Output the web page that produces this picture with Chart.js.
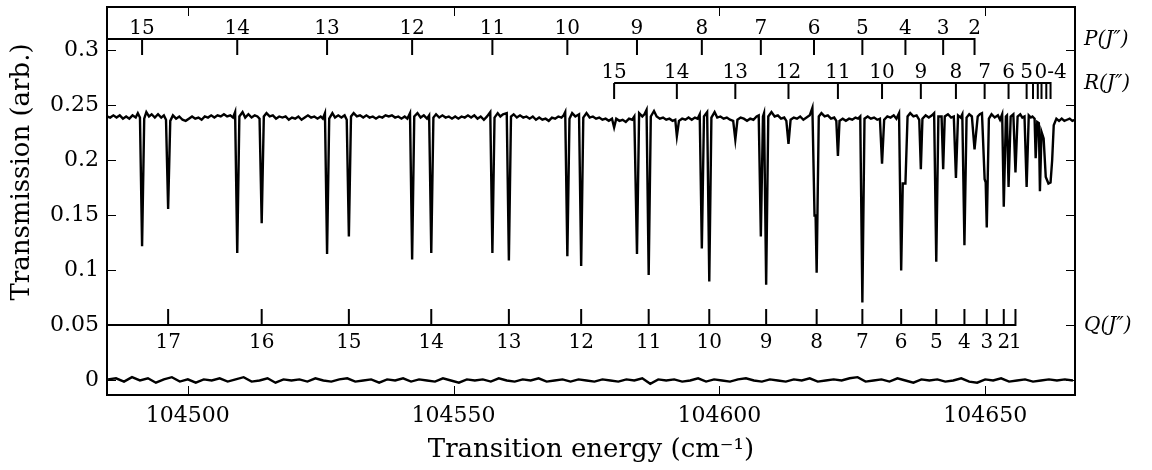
<!DOCTYPE html>
<html>
<head>
<meta charset="utf-8">
<script src="https://cdn.jsdelivr.net/npm/chart.js@4.4.1/dist/chart.umd.min.js"></script>
<style>
  body { margin: 0; background: #fff; }
  canvas { display: block; }
</style>
</head>
<body>
<canvas id="spec" width="1152" height="470"></canvas>
<script>
// axis range and tick labels
var xMin = 104484.8, xMax = 104666.9;
var yMin = -0.0132, yMax = 0.3395;
var xTicks = [104500, 104550, 104600, 104650];
var yTicks = [0, 0.05, 0.1, 0.15, 0.2, 0.25, 0.3];

// transmission spectrum [energy, transmission]
var spectrum = [
  [104484.8, 0.240], [104485.4, 0.239], [104486.0, 0.241], [104486.6, 0.239], [104487.2, 0.241],
  [104487.8, 0.238], [104488.4, 0.240], [104489.0, 0.238], [104489.6, 0.241], [104490.2, 0.239],
  [104490.6, 0.243], [104491.0, 0.239], [104491.4, 0.122], [104491.8, 0.238], [104492.2, 0.244],
  [104492.7, 0.240], [104493.2, 0.242], [104493.8, 0.239], [104494.4, 0.242], [104495.0, 0.239],
  [104495.5, 0.241], [104495.9, 0.237], [104496.3, 0.156], [104496.7, 0.236], [104497.2, 0.241],
  [104497.8, 0.238], [104498.4, 0.240], [104499.0, 0.237], [104499.6, 0.236], [104500.2, 0.238],
  [104500.8, 0.240], [104501.4, 0.238], [104502.0, 0.239], [104502.6, 0.237], [104503.2, 0.240],
  [104503.8, 0.239], [104504.4, 0.241], [104505.0, 0.239], [104505.6, 0.241], [104506.2, 0.240],
  [104506.8, 0.242], [104507.4, 0.240], [104508.0, 0.241], [104508.5, 0.239], [104508.9, 0.244],
  [104509.3, 0.116], [104509.7, 0.240], [104510.3, 0.244], [104510.8, 0.239], [104511.4, 0.242],
  [104512.0, 0.239], [104512.6, 0.241], [104513.1, 0.240], [104513.5, 0.238], [104513.9, 0.143],
  [104514.3, 0.240], [104514.8, 0.243], [104515.4, 0.240], [104516.0, 0.241], [104516.6, 0.238],
  [104517.2, 0.240], [104517.8, 0.239], [104518.4, 0.240], [104519.0, 0.237], [104519.6, 0.239],
  [104520.2, 0.238], [104520.8, 0.240], [104521.4, 0.237], [104522.0, 0.239], [104522.6, 0.241],
  [104523.2, 0.239], [104523.8, 0.240], [104524.4, 0.238], [104525.0, 0.240], [104525.4, 0.238],
  [104525.8, 0.243], [104526.2, 0.115], [104526.6, 0.238], [104527.2, 0.243], [104527.7, 0.239],
  [104528.3, 0.241], [104528.9, 0.239], [104529.5, 0.241], [104529.9, 0.237], [104530.3, 0.131],
  [104530.7, 0.240], [104531.2, 0.243], [104531.8, 0.240], [104532.4, 0.241], [104533.0, 0.239],
  [104533.6, 0.241], [104534.2, 0.239], [104534.8, 0.240], [104535.4, 0.238], [104536.0, 0.240],
  [104536.6, 0.239], [104537.2, 0.241], [104537.8, 0.240], [104538.4, 0.241], [104539.0, 0.239],
  [104539.6, 0.240], [104540.2, 0.238], [104540.8, 0.240], [104541.3, 0.238], [104541.8, 0.243],
  [104542.2, 0.110], [104542.6, 0.240], [104543.2, 0.243], [104543.8, 0.239], [104544.4, 0.241],
  [104545.0, 0.238], [104545.4, 0.241], [104545.8, 0.116], [104546.2, 0.239], [104546.7, 0.242],
  [104547.3, 0.239], [104547.9, 0.241], [104548.5, 0.239], [104549.1, 0.240], [104549.7, 0.238],
  [104550.3, 0.240], [104550.9, 0.238], [104551.5, 0.240], [104552.1, 0.239], [104552.7, 0.241],
  [104553.3, 0.239], [104553.9, 0.241], [104554.5, 0.238], [104555.1, 0.240], [104555.7, 0.237],
  [104556.3, 0.240], [104556.9, 0.244], [104557.3, 0.116], [104557.7, 0.239], [104558.3, 0.243],
  [104558.8, 0.240], [104559.3, 0.242], [104560.0, 0.243], [104560.4, 0.109], [104560.8, 0.240],
  [104561.3, 0.242], [104561.9, 0.239], [104562.5, 0.241], [104563.1, 0.239], [104563.7, 0.240],
  [104564.3, 0.238], [104564.9, 0.240], [104565.5, 0.237], [104566.1, 0.239], [104566.7, 0.237],
  [104567.3, 0.238], [104567.9, 0.236], [104568.5, 0.239], [104569.1, 0.238], [104569.7, 0.240],
  [104570.3, 0.239], [104570.7, 0.241], [104571.0, 0.244], [104571.4, 0.113], [104571.8, 0.238],
  [104572.3, 0.243], [104572.9, 0.240], [104573.6, 0.242], [104574.0, 0.104], [104574.4, 0.239],
  [104575.0, 0.243], [104575.6, 0.239], [104576.2, 0.240], [104576.8, 0.238], [104577.4, 0.239],
  [104578.0, 0.237], [104578.6, 0.238], [104579.2, 0.236], [104579.8, 0.238], [104580.2, 0.230],
  [104580.6, 0.238], [104581.2, 0.236], [104581.8, 0.237], [104582.4, 0.235], [104583.0, 0.238],
  [104583.6, 0.237], [104584.0, 0.240], [104584.5, 0.115], [104584.9, 0.243], [104585.5, 0.240],
  [104585.9, 0.242], [104586.3, 0.246], [104586.7, 0.096], [104587.1, 0.240], [104587.7, 0.245],
  [104588.2, 0.240], [104588.8, 0.238], [104589.4, 0.239], [104590.0, 0.237], [104590.6, 0.238],
  [104591.2, 0.236], [104591.7, 0.237], [104592.0, 0.222], [104592.4, 0.236], [104593.0, 0.238],
  [104593.6, 0.237], [104594.2, 0.239], [104594.8, 0.237], [104595.4, 0.239], [104595.9, 0.238],
  [104596.3, 0.242], [104596.7, 0.120], [104597.1, 0.240], [104597.7, 0.244], [104598.1, 0.090],
  [104598.5, 0.239], [104599.1, 0.244], [104599.6, 0.239], [104600.2, 0.240], [104600.8, 0.238],
  [104601.4, 0.239], [104602.0, 0.237], [104602.6, 0.236], [104603.0, 0.219], [104603.4, 0.237],
  [104604.0, 0.239], [104604.6, 0.238], [104605.2, 0.236], [104605.8, 0.238], [104606.4, 0.237],
  [104607.0, 0.240], [104607.4, 0.241], [104607.8, 0.131], [104608.2, 0.240], [104608.4, 0.243],
  [104608.8, 0.087], [104609.2, 0.240], [104609.8, 0.244], [104610.4, 0.240], [104611.0, 0.241],
  [104611.6, 0.238], [104612.2, 0.239], [104612.6, 0.236], [104613.0, 0.215], [104613.4, 0.237],
  [104614.0, 0.239], [104614.6, 0.238], [104615.2, 0.240], [104615.8, 0.237], [104616.4, 0.239],
  [104617.0, 0.241], [104617.5, 0.248], [104617.9, 0.150], [104618.1, 0.150], [104618.3, 0.098],
  [104618.7, 0.240], [104619.2, 0.243], [104619.8, 0.240], [104620.4, 0.241], [104621.0, 0.238],
  [104621.6, 0.239], [104622.0, 0.236], [104622.3, 0.204], [104622.6, 0.236], [104623.2, 0.238],
  [104623.8, 0.236], [104624.4, 0.238], [104625.0, 0.237], [104625.6, 0.239], [104626.1, 0.238],
  [104626.5, 0.240], [104626.9, 0.071], [104627.3, 0.238], [104627.9, 0.240], [104628.5, 0.238],
  [104629.1, 0.239], [104629.7, 0.237], [104630.2, 0.238], [104630.6, 0.197], [104631.0, 0.237],
  [104631.6, 0.240], [104632.2, 0.239], [104632.8, 0.241], [104633.3, 0.238], [104633.8, 0.243],
  [104634.2, 0.100], [104634.5, 0.179], [104635.0, 0.179], [104635.4, 0.240], [104635.9, 0.243],
  [104636.5, 0.240], [104637.1, 0.241], [104637.6, 0.237], [104637.9, 0.192], [104638.2, 0.238],
  [104638.8, 0.241], [104639.4, 0.239], [104640.0, 0.241], [104640.4, 0.243], [104640.8, 0.108],
  [104641.2, 0.240], [104641.8, 0.240], [104642.1, 0.192], [104642.4, 0.240], [104643.0, 0.242],
  [104643.6, 0.239], [104644.1, 0.240], [104644.5, 0.184], [104644.9, 0.241], [104645.4, 0.239],
  [104645.7, 0.242], [104646.1, 0.123], [104646.5, 0.239], [104647.0, 0.242], [104647.5, 0.240],
  [104648.0, 0.210], [104648.6, 0.240], [104649.0, 0.242], [104649.4, 0.243], [104649.9, 0.183],
  [104650.1, 0.180], [104650.3, 0.139], [104650.7, 0.238], [104651.2, 0.242], [104651.8, 0.239],
  [104652.4, 0.241], [104652.8, 0.237], [104653.2, 0.242], [104653.5, 0.158], [104653.9, 0.240],
  [104654.1, 0.241], [104654.4, 0.176], [104654.8, 0.240], [104655.3, 0.242], [104655.7, 0.189],
  [104656.1, 0.240], [104656.6, 0.242], [104657.0, 0.239], [104657.4, 0.240], [104657.8, 0.176],
  [104658.2, 0.241], [104658.6, 0.239], [104658.9, 0.240], [104659.3, 0.238], [104659.5, 0.202],
  [104659.8, 0.235], [104660.1, 0.234], [104660.3, 0.172], [104660.6, 0.226], [104661.0, 0.220],
  [104661.4, 0.185], [104661.9, 0.179], [104662.3, 0.180], [104662.6, 0.200], [104662.9, 0.232],
  [104663.4, 0.238], [104663.9, 0.236], [104664.4, 0.238], [104664.9, 0.236], [104665.4, 0.237],
  [104665.9, 0.238], [104666.4, 0.236], [104666.9, 0.237]
];

// lower trace near zero [energy, value]
var residual = [
  [104485.0, 0.001], [104486.5, 0.002], [104488.0, -0.001], [104489.5, 0.003], [104491.0, 0.000],
  [104492.5, 0.002], [104494.0, -0.002], [104495.5, 0.001], [104497.0, 0.003], [104498.5, -0.001],
  [104500.0, 0.001], [104501.5, -0.002], [104503.0, 0.001], [104504.5, 0.000], [104506.0, 0.002],
  [104507.5, -0.001], [104509.0, 0.001], [104510.5, 0.003], [104512.0, -0.001], [104513.5, 0.000],
  [104515.0, 0.002], [104516.5, -0.002], [104518.0, 0.001], [104519.5, 0.000], [104521.0, 0.001],
  [104522.5, -0.001], [104524.0, 0.002], [104525.5, 0.000], [104527.0, -0.001], [104528.5, 0.001],
  [104530.0, 0.002], [104531.5, -0.001], [104533.0, 0.000], [104534.5, 0.001], [104536.0, -0.002],
  [104537.5, 0.001], [104539.0, 0.000], [104540.5, 0.002], [104542.0, -0.001], [104543.5, 0.001],
  [104545.0, 0.000], [104546.5, -0.001], [104548.0, 0.002], [104549.5, 0.000], [104551.0, -0.002],
  [104552.5, 0.001], [104554.0, 0.000], [104555.5, 0.001], [104557.0, -0.001], [104558.5, 0.002],
  [104560.0, 0.000], [104561.5, -0.001], [104563.0, 0.001], [104564.5, 0.000], [104566.0, 0.002],
  [104567.5, -0.001], [104569.0, 0.000], [104570.5, 0.001], [104572.0, -0.001], [104573.5, 0.001],
  [104575.0, 0.000], [104576.5, -0.001], [104578.0, 0.001], [104579.5, 0.000], [104581.0, -0.001],
  [104582.5, 0.001], [104584.0, 0.000], [104585.5, 0.002], [104587.0, -0.003], [104588.5, 0.001],
  [104590.0, 0.000], [104591.5, 0.001], [104593.0, -0.001], [104594.5, 0.000], [104596.0, 0.002],
  [104597.5, -0.001], [104599.0, 0.001], [104600.5, 0.000], [104602.0, -0.001], [104603.5, 0.001],
  [104605.0, 0.002], [104606.5, 0.000], [104608.0, -0.001], [104609.5, 0.001], [104611.0, 0.000],
  [104612.5, -0.001], [104614.0, 0.001], [104615.5, 0.000], [104617.0, 0.002], [104618.5, -0.001],
  [104620.0, 0.000], [104621.5, 0.001], [104623.0, 0.000], [104624.5, 0.002], [104626.0, 0.003],
  [104627.5, -0.001], [104629.0, 0.000], [104630.5, 0.001], [104632.0, -0.001], [104633.5, 0.002],
  [104635.0, 0.000], [104636.5, -0.002], [104638.0, 0.001], [104639.5, 0.000], [104641.0, 0.001],
  [104642.5, -0.001], [104644.0, 0.000], [104645.5, 0.002], [104647.0, -0.001], [104648.5, -0.002],
  [104650.0, 0.001], [104651.5, 0.000], [104653.0, 0.002], [104654.5, -0.001], [104656.0, 0.000],
  [104657.5, 0.001], [104659.0, -0.001], [104660.5, 0.000], [104662.0, 0.001], [104663.5, 0.000],
  [104665.0, 0.001], [104666.5, 0.000]
];

// line assignments (cm-1) for the P, R and Q branches
var pLines = [104491.4, 104509.3, 104526.2, 104542.2, 104557.3, 104571.4, 104584.5, 104596.7,
              104607.8, 104617.8, 104626.9, 104635.0, 104642.1, 104648.0];
var pLabels = ['15', '14', '13', '12', '11', '10', '9', '8', '7', '6', '5', '4', '3', '2'];
var rLines = [104580.2, 104592.0, 104603.0, 104613.0, 104622.3, 104630.6, 104637.9, 104644.5,
              104649.9, 104654.4, 104657.8, 104659.0, 104659.9, 104660.6, 104661.5, 104662.3];
var rLabels = ['15', '14', '13', '12', '11', '10', '9', '8', '7', '6', '5', '', '', '', '', '0-4'];
var qLines = [104496.3, 104513.9, 104530.3, 104545.8, 104560.4, 104574.0, 104586.7, 104598.1,
              104608.8, 104618.3, 104626.9, 104634.2, 104640.8, 104646.1, 104650.3, 104653.5, 104655.7];
var qLabels = ['17', '16', '15', '14', '13', '12', '11', '10', '9', '8', '7', '6', '5', '4', '3', '2', '1'];

var serif = '"DejaVu Serif", "Liberation Serif", serif';

var branches = [
  { name: 'P', lines: pLines, labels: pLabels, level: 0.310, dir: 1, fromEdge: true },
  { name: 'R', lines: rLines, labels: rLabels, level: 0.270, dir: 1, fromEdge: false },
  { name: 'Q', lines: qLines, labels: qLabels, level: 0.050, dir: -1, fromEdge: true }
];

// frame, inward ticks, branch combs and y title
var decorations = {
  id: 'decorations',
  afterDatasetsDraw: function (chart) {
    var ctx = chart.ctx, a = chart.chartArea;
    var xs = chart.scales.x, ys = chart.scales.y;
    ctx.save();
    ctx.strokeStyle = '#000';
    ctx.fillStyle = '#000';

    // inward axis ticks
    ctx.lineWidth = 1;
    ctx.beginPath();
    xTicks.forEach(function (v) {
      var px = Math.round(xs.getPixelForValue(v)) + 0.5;
      ctx.moveTo(px, a.bottom); ctx.lineTo(px, a.bottom - 9);
      ctx.moveTo(px, a.top); ctx.lineTo(px, a.top + 9);
    });
    yTicks.forEach(function (v) {
      var py = Math.round(ys.getPixelForValue(v)) + 0.5;
      ctx.moveTo(a.left, py); ctx.lineTo(a.left + 9, py);
      ctx.moveTo(a.right, py); ctx.lineTo(a.right - 9, py);
    });
    ctx.stroke();

    // branch combs
    ctx.font = '20px ' + serif;
    ctx.textAlign = 'center';
    branches.forEach(function (b) {
      var py = Math.round(ys.getPixelForValue(b.level));
      var x0 = b.fromEdge ? a.left : xs.getPixelForValue(b.lines[0]);
      var x1 = xs.getPixelForValue(b.lines[b.lines.length - 1]);
      ctx.lineWidth = 2;
      ctx.beginPath();
      ctx.moveTo(x0, py); ctx.lineTo(x1 + 1, py);
      b.lines.forEach(function (v) {
        var px = xs.getPixelForValue(v);
        ctx.moveTo(px, py); ctx.lineTo(px, py + b.dir * 16);
      });
      ctx.stroke();
      b.labels.forEach(function (t, i) {
        if (!t) return;
        var px = xs.getPixelForValue(b.lines[i]);
        ctx.fillText(t, px, b.dir > 0 ? py - 5 : py + 23);
      });
      ctx.save();
      ctx.textAlign = 'left';
      ctx.textBaseline = 'middle';
      ctx.font = 'italic 20px ' + serif;
      ctx.fillText(b.name + '(J\u2033)', a.right + 9, py + 1);
      ctx.restore();
    });

    // spines
    ctx.lineWidth = 2;
    ctx.strokeRect(a.left, a.top, a.right - a.left, a.bottom - a.top);

    // y axis title
    ctx.save();
    ctx.translate(22, 172);
    ctx.rotate(-Math.PI / 2);
    ctx.textAlign = 'center';
    ctx.textBaseline = 'middle';
    ctx.font = '26px ' + serif;
    ctx.fillText('Transmission (arb.)', 0, 0);
    ctx.restore();

    ctx.restore();
  }
};

var ctx = document.getElementById('spec').getContext('2d');

var myChart = new Chart(ctx, {
  type: 'line',
  data: {
    datasets: [{
      label: 'Transmission',
      data: spectrum.map(function (p) { return { x: p[0], y: p[1] }; }),
      borderColor: '#000',
      borderWidth: 2.4,
      pointRadius: 0,
      tension: 0
    }, {
      label: 'Residual',
      data: residual.map(function (p) { return { x: p[0], y: p[1] }; }),
      borderColor: '#000',
      borderWidth: 2.4,
      pointRadius: 0,
      tension: 0
    }]
  },
  options: {
    responsive: false,
    devicePixelRatio: 1,
    animation: false,
    layout: { padding: { top: 7, right: 77, left: 0, bottom: 0 } },
    plugins: { legend: { display: false }, tooltip: { enabled: false } },
    scales: {
      x: {
        type: 'linear',
        min: xMin,
        max: xMax,
        grid: { display: false, drawTicks: false },
        border: { display: false },
        afterBuildTicks: function (s) { s.ticks = xTicks.map(function (v) { return { value: v }; }); },
        afterFit: function (s) { s.height = 75; s.paddingLeft = 0; s.paddingRight = 0; },
        ticks: {
          color: '#000',
          font: { family: serif, size: 22 },
          padding: 8,
          maxRotation: 0,
          autoSkip: false,
          callback: function (v) { return String(v); }
        },
        title: {
          display: true,
          text: 'Transition energy (cm\u207B\u00B9)',
          color: '#000',
          font: { family: serif, size: 26 },
          padding: { top: 0, bottom: 4 }
        }
      },
      y: {
        min: yMin,
        max: yMax,
        grid: { display: false, drawTicks: false },
        border: { display: false },
        afterBuildTicks: function (s) { s.ticks = yTicks.map(function (v) { return { value: v }; }); },
        afterFit: function (s) { s.width = 107; s.paddingTop = 0; s.paddingBottom = 0; },
        ticks: {
          color: '#000',
          font: { family: serif, size: 22 },
          padding: 8,
          callback: function (v) { return String(v); }
        }
      }
    }
  },
  plugins: [decorations]
});
</script>
</body>
</html>
